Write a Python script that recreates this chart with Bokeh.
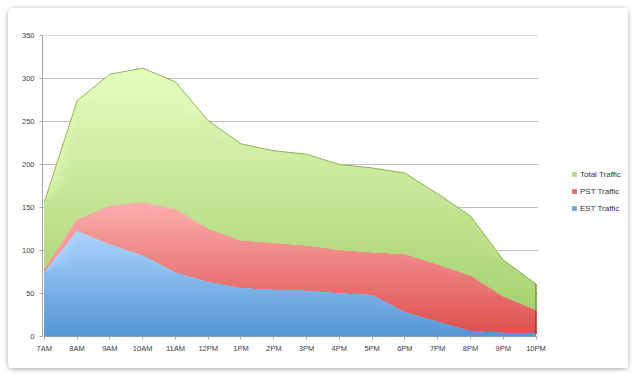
import numpy as np
from bokeh.plotting import figure
from bokeh.models import Range1d, FixedTicker, Legend, LegendItem
from bokeh.embed import file_html
from bokeh.resources import INLINE

# ---- data ----
hours = ["7AM", "8AM", "9AM", "10AM", "11AM", "12PM", "1PM", "2PM",
         "3PM", "4PM", "5PM", "6PM", "7PM", "8PM", "9PM", "10PM"]
total_traffic = [156, 274, 305, 312, 296, 251, 224, 216, 212, 200, 196, 190, 166, 140, 89, 61]
pst_traffic = [78, 136, 152, 156, 148, 125, 111, 108, 105, 100, 97, 95, 83, 70, 46, 30]
est_traffic = [75, 123, 107, 94, 74, 63, 56, 54, 53, 50, 48, 28, 17, 6, 4, 3]
y_ticks = [0, 50, 100, 150, 200, 250, 300, 350]
series_names = ["Total Traffic", "PST Traffic", "EST Traffic"]

# gradient colours (top, bottom) per series
grad = {
    "Total Traffic": ("#e4fdbd", "#a0cb66"),
    "PST Traffic": ("#fbacac", "#dd4d4d"),
    "EST Traffic": ("#abd3fc", "#5394d5"),
}

FONT = "Liberation Sans"
PAD_L = 0.055   # plot-area padding left of first category (in category units)
PAD_R = 0.06    # plot-area padding right of last category
PX_PER_CAT = 32.78
FIG_W, FIG_H = 620, 360
BORDER_L = 34

x = np.arange(len(hours))
x_start = -PAD_L
x_end = x_start + (FIG_W - BORDER_L) / PX_PER_CAT
area_end = x[-1] + PAD_R

p = figure(width=FIG_W, height=FIG_H, output_backend="svg", toolbar_location=None,
           x_range=Range1d(x_start, x_end), y_range=Range1d(0, 350),
           min_border_left=BORDER_L, min_border_right=0, min_border_top=27,
           min_border_bottom=32)
p.margin = (8, 8, 8, 8)
p.styles = {"box-shadow": "0px 1px 5px rgba(0,0,0,0.35)", "border-radius": "5px"}
p.background_fill_color = "white"
p.border_fill_color = "white"
p.outline_line_color = None

# horizontal grid lines limited to the plot area
gy = np.array(y_ticks[1:], dtype=float)
p.segment(x0=np.full_like(gy, x_start), y0=gy, x1=np.full_like(gy, area_end), y1=gy,
          line_color="#bdbdbd", line_width=1)


def hex2rgb(h):
    h = h.lstrip("#")
    return np.array([int(h[i:i + 2], 16) for i in (0, 2, 4)], dtype=float)


def rgb2hex(c):
    c = np.clip(np.round(c), 0, 255).astype(int)
    return "#%02x%02x%02x" % tuple(c)


N = 40
legend_renderers = {}
for name, vals in zip(series_names, [total_traffic, pst_traffic, est_traffic]):
    v = np.array(vals, dtype=float)
    m = v.max()
    top, bot = hex2rgb(grad[name][0]), hex2rgb(grad[name][1])
    for k in range(N):
        t = (N - k) / N
        cap = m * t
        col = rgb2hex(bot + (top - bot) * t)
        r = p.varea(x=x, y1=np.zeros_like(v), y2=np.minimum(v, cap),
                    fill_color=col, fill_alpha=1.0)
        if k == int(N * 0.7):
            legend_renderers[name] = r

# outline of the total series top and right edges
p.line(x, total_traffic, line_color="#8db556", line_width=1)
p.segment(x0=[x[-1]], y0=[pst_traffic[-1]], x1=[x[-1]], y1=[total_traffic[-1]],
          line_color="#6f9a35", line_width=1.5)
p.segment(x0=[x[-1]], y0=[est_traffic[-1]], x1=[x[-1]], y1=[pst_traffic[-1]],
          line_color="#a82828", line_width=1.5)

# x axis base line limited to the plot area
p.segment(x0=[x_start], y0=[y_ticks[0]], x1=[area_end], y1=[y_ticks[0]],
          line_color="#a6a6a6", line_width=1)

# grid & axes
p.xgrid.visible = False
p.ygrid.visible = False

p.xaxis.ticker = FixedTicker(ticks=list(range(len(hours))))
p.xaxis.major_label_overrides = {i: h for i, h in enumerate(hours)}
p.yaxis.ticker = FixedTicker(ticks=y_ticks)

for ax in (p.xaxis[0], p.yaxis[0]):
    ax.axis_line_color = "#a6a6a6"
    ax.major_tick_line_color = "#a6a6a6"
    ax.minor_tick_line_color = None
    ax.major_tick_in = 0
    ax.major_tick_out = 3
    ax.major_label_text_font = FONT
    ax.major_label_text_font_size = "7.5px"
    ax.major_label_text_color = "#404040"
p.xaxis[0].axis_line_color = None
p.xaxis.major_label_standoff = 4
p.yaxis.major_label_standoff = 5

legend = Legend(items=[LegendItem(label=n, renderers=[legend_renderers[n]]) for n in series_names],
                location=(529, 123))
legend.background_fill_alpha = 0
legend.border_line_color = None
legend.padding = 0
legend.margin = 0
legend.spacing = 7
legend.label_height = 10
legend.glyph_height = 6
legend.glyph_width = 6
legend.label_standoff = 3
legend.label_text_font = FONT
legend.label_text_font_size = "8px"
legend.label_text_color = "#333333"
p.add_layout(legend, "center")

open("out.html", "w").write(file_html(p, INLINE))
